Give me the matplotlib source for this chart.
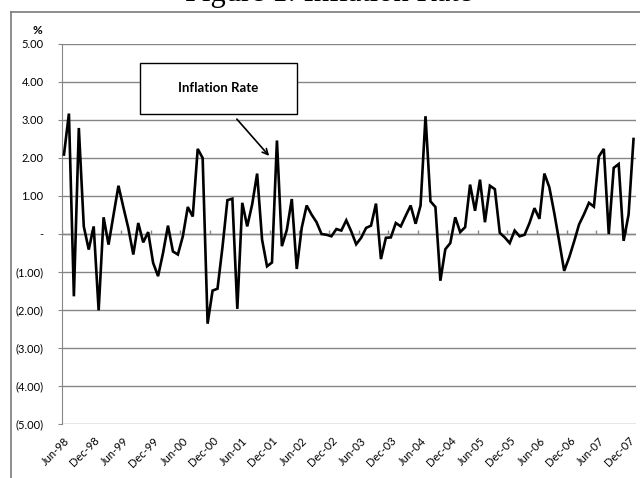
import numpy as np
import matplotlib
matplotlib.use("Agg")
import matplotlib.pyplot as plt
from matplotlib.patches import Rectangle
from matplotlib.lines import Line2D

# monthly inflation rate (%), Jun-98 .. Jan-08
start_month = "1998-06"
inflation = [
    2.09, 3.17, -1.64, 2.79, 0.20, -0.41, 0.20, -2.01, 0.44, -0.28,
    0.50, 1.27, 0.70, 0.15, -0.54, 0.29, -0.22, 0.05, -0.76, -1.11,
    -0.50, 0.22, -0.46, -0.54, -0.06, 0.71, 0.46, 2.24, 2.00, -2.36,
    -1.49, -1.44, -0.35, 0.89, 0.93, -1.97, 0.82, 0.20, 0.78, 1.59,
    -0.15, -0.85, -0.75, 2.46, -0.32, 0.11, 0.92, -0.92, 0.16, 0.75,
    0.51, 0.31, 0.00, -0.02, -0.06, 0.13, 0.09, 0.36, 0.07, -0.27,
    -0.10, 0.16, 0.22, 0.80, -0.66, -0.10, -0.09, 0.29, 0.20, 0.48,
    0.75, 0.27, 0.75, 3.10, 0.86, 0.71, -1.23, -0.40, -0.24, 0.44,
    0.05, 0.18, 1.30, 0.61, 1.43, 0.31, 1.27, 1.18, 0.03, -0.09,
    -0.24, 0.09, -0.06, -0.02, 0.29, 0.68, 0.40, 1.59, 1.23, 0.55,
    -0.20, -0.97, -0.62, -0.20, 0.25, 0.52, 0.82, 0.72, 2.04, 2.24,
    0.00, 1.74, 1.84, -0.18, 0.51, 2.50,
]
y_ticks = [5, 4, 3, 2, 1, 0, -1, -2, -3, -4, -5]
y_labels = ["5.00", "4.00", "3.00", "2.00", "1.00", "-", "(1.00)", "(2.00)",
            "(3.00)", "(4.00)", "(5.00)"]
label_every = 6


def month_label(k):
    names = ["Jan", "Feb", "Mar", "Apr", "May", "Jun", "Jul", "Aug", "Sep",
             "Oct", "Nov", "Dec"]
    y0, m0 = map(int, start_month.split("-"))
    m = m0 - 1 + k
    return f"{names[m % 12]}-{(y0 + m // 12) % 100:02d}"


def main():
    W, H = 640, 478
    grey = "#868686"
    fig = plt.figure(figsize=(W / 100, H / 100), dpi=100)
    plt.rcParams["font.family"] = ["Lato", "DejaVu Sans"]

    # outer chart frame (top and left edges, the rest is off-image)
    fig.add_artist(Line2D([10.5 / W, 1.0], [1 - 11.5 / H] * 2, transform=fig.transFigure,
                          color="#7a7a7a", lw=1.2, zorder=10))
    fig.add_artist(Line2D([10.5 / W] * 2, [0.0, 1 - 11.5 / H], transform=fig.transFigure,
                          color="#7a7a7a", lw=1.2, zorder=10))
    # title sits mostly above the visible area, as in the source image
    fig.text(329 / W, 1 - 1.5 / H, "Figure 1: Inflation Rate", ha="center", va="baseline",
             fontsize=22, family="Liberation Serif")

    ax = fig.add_axes([61.5 / W, 1 - 424 / H, (636 - 61.5) / W, 380 / H])
    n = len(inflation)
    x = np.arange(n)
    ax.plot(x, inflation, color="black", lw=1.9, solid_joinstyle="miter", zorder=3)
    ax.set_xlim(-0.5, n - 0.5)
    ax.set_ylim(-5, 5)

    ax.set_yticks(y_ticks)
    ax.set_yticklabels(y_labels, fontsize=8)
    ax.grid(axis="y", color=grey, lw=1.0)
    ax.tick_params(axis="y", length=3, color=grey, pad=10)

    pos = list(range(0, n, label_every))
    ax.set_xticks(pos)
    ax.set_xticklabels([month_label(k) for k in pos], fontsize=8, rotation=45,
                       ha="right", va="top", rotation_mode="anchor")
    ax.tick_params(axis="x", length=0, pad=8)
    # category axis crossing at zero with small tick marks
    ax.axhline(0, color=grey, lw=1.0, zorder=2)
    ax.vlines(np.array(pos) - 0.5, 0, 0.1, color=grey, lw=1.0, zorder=2)

    for s in ["top", "right", "bottom"]:
        ax.spines[s].set_visible(False)
    ax.spines["left"].set_color(grey)

    fig.text(37 / W, 1 - 31 / H, "%", ha="center", va="center", fontsize=8.5, weight="bold")

    # callout box and arrow
    fig.add_artist(Rectangle((140 / W, 1 - 114 / H), 157 / W, 51 / H, transform=fig.transFigure,
                             facecolor="white", edgecolor="black", lw=1.0, zorder=5))
    fig.text(218.5 / W, 1 - 88.5 / H, "Inflation Rate", ha="center", va="center",
             fontsize=9.5, weight="bold", zorder=6)
    ax.annotate("", xy=(41.8, 2.0), xytext=(235, H - 117), textcoords="figure pixels",
                arrowprops=dict(arrowstyle="->", color="black", lw=1.2))

    fig.savefig("out.png", dpi=100)


if __name__ == "__main__":
    main()
